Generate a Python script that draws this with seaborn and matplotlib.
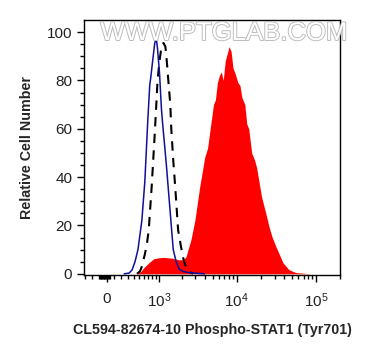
import numpy as np
import matplotlib
matplotlib.use("Agg")
import matplotlib.pyplot as plt
import matplotlib.patheffects as pe
import seaborn as sns

# ---- data ----
red_x = [460, 537, 599, 713, 841, 987, 1152, 1340, 1556, 1803, 2087, 2277, 2413, 2631,
         2953, 3409, 3933, 4286, 4670, 5087, 5387, 5703, 6038, 6393, 6766, 7164, 7583,
         8027, 8497, 8998, 9522, 10368, 10981, 11620, 12660, 13395, 14182, 15442, 16818,
         17807, 20525, 23662, 25774, 28060, 31446, 38364, 45494, 55522, 85054]
red_y = [0, 1, 2.5, 4.5, 6.2, 6.6, 6.8, 6.6, 6.4, 5.8, 5.8, 7, 9.9, 14,
         22, 36, 48, 52, 61, 70, 72, 79, 82, 83.5, 80, 88, 91,
         94, 92, 85, 83, 79, 78, 73, 70, 62, 60, 50, 47,
         44, 32, 24, 19, 15, 11, 4.5, 1.7, 0.5, 0]

blue_x = [246, 323, 372, 424, 479, 517, 557, 621, 689, 738, 763, 814, 869, 912, 956,
          1018, 1083, 1117, 1262, 1381, 1466, 1556, 1700, 1857, 2087, 2413, 3219, 3933]
blue_y = [0, 0.3, 1.6, 5, 10, 16, 22, 38, 63, 78, 81, 88, 95, 98, 93,
          83, 68, 63, 45, 30, 20, 10, 5, 2, 1, 0.5, 0.2, 0]

dash_x = [460, 517, 557, 621, 666, 713, 788, 869, 926, 956, 1018, 1083, 1152, 1224,
          1262, 1340, 1423, 1466, 1556, 1651, 1803, 1969, 2149, 2277, 2484, 2787]
dash_y = [0, 1, 3, 8, 12, 18, 36, 57, 72, 80, 88, 94, 95.5, 94,
          90, 80, 70, 60, 47, 36, 18, 11, 5, 3, 1, 0]

x_major = [0, 1000, 10000, 100000]
x_major_labels = ["0", "$10^3$", "$10^4$", "$10^5$"]
y_major = [0, 20, 40, 60, 80, 100]

xlabel = "CL594-82674-10 Phospho-STAT1 (Tyr701)"
ylabel = "Relative Cell Number"
watermark = "WWW.PTGLAB.COM"

# ---- style ----
sns.set_style("ticks")
plt.rcParams["font.family"] = ["Liberation Sans", "DejaVu Sans"]
plt.rcParams["mathtext.default"] = "regular"

C = 460.0
def fwd(x):
    return np.arcsinh(np.asarray(x, dtype=float) / C)
def inv(y):
    return C * np.sinh(np.asarray(y, dtype=float))

fig = plt.figure(figsize=(3.72, 3.56), dpi=100)
ax = fig.add_axes([84 / 372, 1 - 275 / 356, 256 / 372, 255 / 356])
ax.set_xscale("function", functions=(fwd, inv))

ax.fill_between(red_x, red_y, 0, color="#ff0000", lw=0, zorder=2)
sns.lineplot(x=dash_x, y=dash_y, ax=ax, color="black", lw=1.5, sort=False,
             estimator=None, zorder=3)
ax.lines[-1].set_dashes([4.5, 3.5])
sns.lineplot(x=blue_x, y=blue_y, ax=ax, color="#10109a", lw=1.1, sort=False,
             estimator=None, zorder=4)

ax.set_xlim(-323, 173000)
ax.set_ylim(-0.5, 105)

ax.set_xticks(x_major)
ax.set_xticklabels(x_major_labels)
minor = ([-300, -200] + list(range(-100, 50, 10)) + list(range(100, 1000, 100))
         + list(range(2000, 10000, 1000)) + list(range(20000, 100000, 10000))
         + [200000])
minor = [m for m in minor if m != 0]
ax.set_xticks(minor, minor=True)
ax.set_yticks(y_major)
ax.set_yticks(np.arange(0, 105, 5), minor=True)

ax.tick_params(axis="both", which="major", length=5, width=1, labelsize=11,
               color="black", labelcolor="#222222")
ax.tick_params(axis="both", which="minor", length=3, width=1, color="black")
ax.tick_params(axis="x", which="major", pad=7)
for s in ax.spines.values():
    s.set_linewidth(1)
    s.set_color("black")

ax.set_xlabel(xlabel, fontsize=10.3, fontweight="bold", labelpad=9)
ax.set_ylabel(ylabel, fontsize=10.3, fontweight="bold", labelpad=9)

fig.text(224 / 372, 1 - 33 / 356, watermark, fontsize=18.5, color="white",
         ha="center", va="center", zorder=10,
         path_effects=[pe.withStroke(linewidth=1.4, foreground="#bdbdbd")])

fig.savefig("out.png", dpi=100)
